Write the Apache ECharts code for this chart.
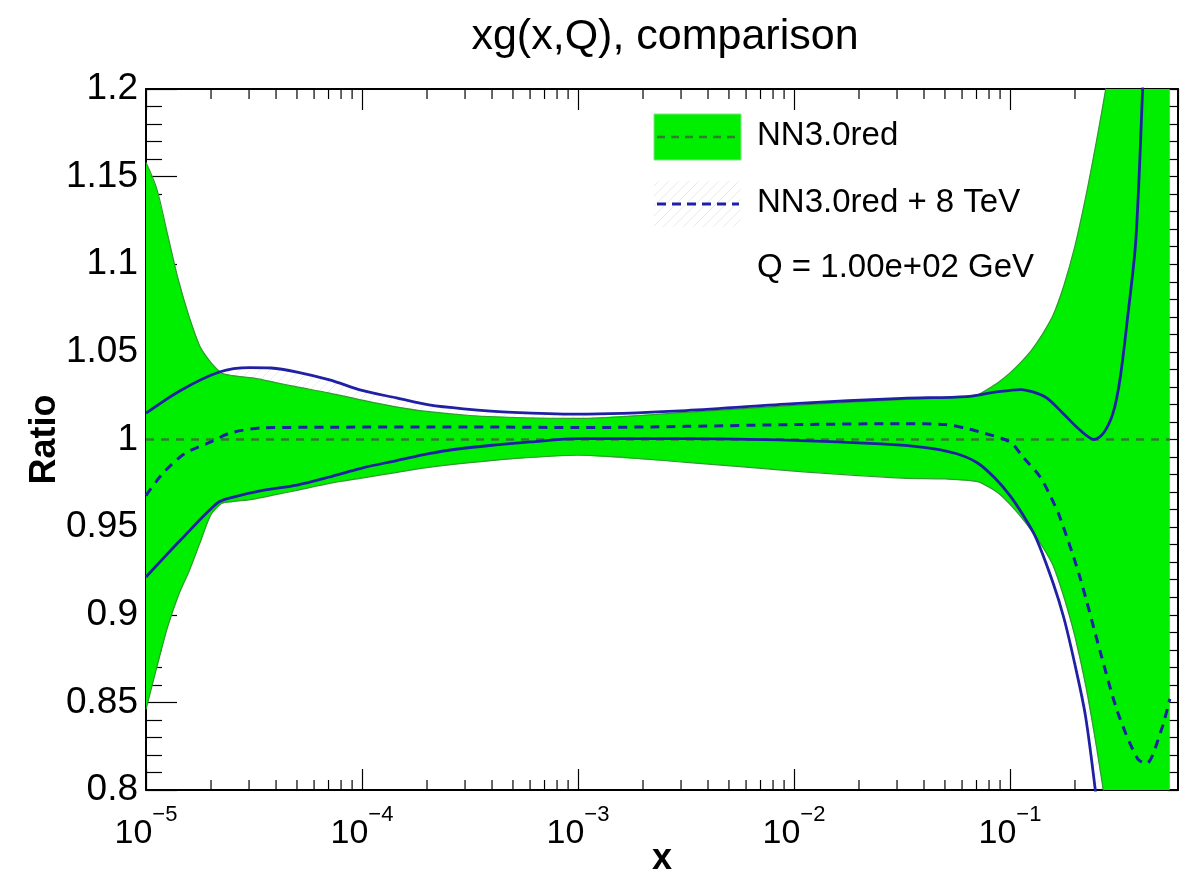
<!DOCTYPE html>
<html>
<head>
<meta charset="utf-8">
<title>xg(x,Q), comparison</title>
<script src="https://cdn.jsdelivr.net/npm/echarts@6/dist/echarts.min.js"></script>
<style>
  html, body { margin: 0; padding: 0; background: #fff; }
  #chart { width: 1188px; height: 876px; }
</style>
</head>
<body>
<div id="chart"></div>
<script>
// all x values are log10(x)
const xMin = -5;
const xMax = -0.222; // x = 0.6
const yMin = 0.8;
const yMax = 1.2;

// NN3.0red band (green)
const bandX = [-5, -4.95, -4.9, -4.85, -4.8, -4.75, -4.7, -4.65, -4.6, -4.5,
  -4.4, -4.3, -4.15, -4.0, -3.85, -3.7, -3.5, -3.25, -3.0, -2.5,
  -2.0, -1.5, -1.3, -1.15, -1.1, -1.05, -1.0, -0.95, -0.9, -0.85,
  -0.8, -0.75, -0.7, -0.65, -0.6, -0.55, -0.5, -0.4, -0.3, -0.26];
const bandUpper = [1.158, 1.143, 1.117, 1.091, 1.070, 1.053, 1.044, 1.038, 1.0365, 1.035,
  1.0325, 1.030, 1.0265, 1.0225, 1.0188, 1.016, 1.0137, 1.0124, 1.012, 1.0155,
  1.0195, 1.0228, 1.0237, 1.0255, 1.029, 1.033, 1.038, 1.044, 1.051, 1.060,
  1.071, 1.088, 1.110, 1.138, 1.170, 1.205, 1.245, 1.33, 1.42, 1.46];
const bandLower = [0.846, 0.870, 0.893, 0.911, 0.925, 0.941, 0.957, 0.9635, 0.9645, 0.966,
  0.9685, 0.971, 0.975, 0.978, 0.981, 0.984, 0.9868, 0.9895, 0.991, 0.987,
  0.982, 0.978, 0.9775, 0.976, 0.973, 0.969, 0.963, 0.956, 0.948, 0.939,
  0.928, 0.910, 0.888, 0.860, 0.825, 0.785, 0.74, 0.65, 0.56, 0.52];
const refLine = [[-5, 1], [-0.26, 1]];

// NN3.0red + 8 TeV (blue)
const blueUpper = [[-5, 1.015], [-4.84, 1.028], [-4.66, 1.0385], [-4.52, 1.041], [-4.42, 1.0408],
  [-4.3, 1.0385], [-4.15, 1.034], [-4.0, 1.028], [-3.84, 1.0237], [-3.69, 1.0197],
  [-3.53, 1.0175], [-3.3, 1.0155], [-3.0, 1.0145], [-2.5, 1.0165], [-2.0, 1.0205],
  [-1.5, 1.0235], [-1.2, 1.0245], [-1.07, 1.027], [-0.95, 1.0285], [-0.89, 1.027],
  [-0.83, 1.0237], [-0.755, 1.015], [-0.676, 1.0054], [-0.61, 1.0], [-0.565, 1.004],
  [-0.523, 1.015], [-0.491, 1.034], [-0.455, 1.07], [-0.417, 1.114], [-0.384, 1.205],
  [-0.37, 1.25]];
const blueMid = [[-5, 0.968], [-4.92, 0.981], [-4.82, 0.992], [-4.70, 0.9986], [-4.61, 1.0037],
  [-4.46, 1.0066], [-4.15, 1.007], [-3.5, 1.0072], [-3.0, 1.0068], [-2.5, 1.0075],
  [-2.0, 1.0085], [-1.5, 1.009], [-1.3, 1.0085], [-1.19, 1.006], [-1.14, 1.0043],
  [-1.0, 0.9986], [-0.94, 0.990], [-0.86, 0.9786], [-0.81, 0.967], [-0.77, 0.956],
  [-0.68, 0.923], [-0.58, 0.878], [-0.5, 0.844], [-0.41, 0.818], [-0.37, 0.815],
  [-0.30, 0.834], [-0.26, 0.852]];
const blueLower = [[-5, 0.9215], [-4.84, 0.9426], [-4.67, 0.9637], [-4.6, 0.967], [-4.46, 0.971],
  [-4.3, 0.974], [-4.15, 0.9786], [-4.0, 0.9837], [-3.84, 0.988], [-3.69, 0.992],
  [-3.53, 0.995], [-3.38, 0.9969], [-3.22, 0.9986], [-3.0, 1.0005], [-2.5, 1.0005],
  [-2.0, 0.9995], [-1.6, 0.9975], [-1.4, 0.9955], [-1.25, 0.992], [-1.15, 0.9866],
  [-1.07, 0.978], [-1.0, 0.968], [-0.94, 0.957], [-0.88, 0.944], [-0.8, 0.918],
  [-0.75, 0.898], [-0.7, 0.872], [-0.65, 0.842], [-0.6, 0.795], [-0.55, 0.74]];

// minor ticks of the log axis (2..9 in each decade)
const minorTicks = [];
for (let d = -5; d < 0; d++) {
  for (let m = 2; m <= 9; m++) {
    const v = d + Math.log10(m);
    if (v < xMax) minorTicks.push([v, yMin]);
  }
}

const FONT = "'Liberation Sans', Arial, Helvetica, sans-serif";
const GREEN = '#00ee00';
const EDGE = '#2f9a2f';
const REF = '#2f7d2f';
const BLUE = '#2020a4';

// faint hatch used for the second set
const hatch = document.createElement('canvas');
hatch.width = 10; hatch.height = 10;
const hctx = hatch.getContext('2d');
hctx.strokeStyle = 'rgba(120,130,220,0.18)';
hctx.lineWidth = 1;
hctx.beginPath();
hctx.moveTo(0, 10); hctx.lineTo(10, 0);
hctx.stroke();

function polygonRender(style) {
  return function (params, api) {
    if (params.dataIndexInside !== 0) return null;
    const pts = [];
    for (let i = 0; i < params.dataInsideLength; i++) {
      pts.push(api.coord([api.value(0, i), api.value(1, i)]));
    }
    return { type: 'polygon', shape: { points: pts }, style: style };
  };
}

const bandPoly = bandX.map((x, i) => [x, bandUpper[i]])
  .concat(bandX.map((x, i) => [x, bandLower[i]]).reverse());
const bluePoly = blueUpper.concat(blueLower.slice().reverse());

const chart = echarts.init(document.getElementById('chart'));

chart.setOption({
  backgroundColor: '#fff',
  animation: false,
  title: {
    text: 'xg(x,Q), comparison',
    left: 660,
    textAlign: 'center',
    top: 11,
    textStyle: { fontFamily: FONT, fontSize: 43, fontWeight: 'normal', color: '#000' }
  },
  grid: { left: 146, top: 89, width: 1032, height: 701, containLabel: false, outerBoundsMode: 'none' },
  xAxis: [
    {
      type: 'value', min: xMin, max: xMax, interval: 1,
      name: 'x', nameLocation: 'middle', nameGap: 51, nameMoveOverlap: false,
      nameTextStyle: { fontFamily: FONT, fontSize: 36, fontWeight: 'bold', color: '#000' },
      axisLine: { lineStyle: { color: '#000', width: 2 } },
      axisTick: { inside: true, length: 21, lineStyle: { color: '#000', width: 1.2 } },
      splitLine: { show: false },
      axisLabel: {
        margin: 14,
        showMaxLabel: false,
        formatter: v => Number.isInteger(v) ? '{b|10}{s|' + (v < 0 ? '\u2212' + (-v) : v) + '}' : '',
        rich: {
          b: { fontFamily: FONT, fontSize: 34, lineHeight: 60, color: '#000' },
          s: { fontFamily: FONT, fontSize: 22, lineHeight: 22, verticalAlign: 'top', color: '#000' }
        }
      }
    },
    {
      type: 'value', min: xMin, max: xMax, interval: 1, position: 'top',
      axisLine: { lineStyle: { color: '#000', width: 2 } },
      axisTick: { inside: true, length: 21, lineStyle: { color: '#000', width: 1.2 } },
      axisLabel: { show: false },
      splitLine: { show: false }
    }
  ],
  yAxis: [
    {
      type: 'value', min: yMin, max: yMax, interval: 0.05,
      name: 'Ratio', nameLocation: 'middle', nameGap: 83, nameMoveOverlap: false,
      nameTextStyle: { fontFamily: FONT, fontSize: 36, fontWeight: 'bold', color: '#000' },
      axisLine: { lineStyle: { color: '#000', width: 2 } },
      axisTick: { inside: true, length: 31, lineStyle: { color: '#000', width: 1.2 } },
      minorTick: { show: true, splitNumber: 5, length: 16, lineStyle: { color: '#000', width: 1.2 } },
      splitLine: { show: false },
      axisLabel: {
        margin: 8,
        fontFamily: FONT, fontSize: 37, color: '#000',
        formatter: v => String(Number(v.toFixed(2)))
      }
    },
    {
      type: 'value', min: yMin, max: yMax, interval: 0.01, position: 'right',
      axisLine: { lineStyle: { color: '#000', width: 2 } },
      axisTick: { inside: true, length: 10, lineStyle: { color: '#000', width: 1.2 } },
      axisLabel: { show: false },
      splitLine: { show: false }
    }
  ],
  graphic: [
    { type: 'rect', shape: { x: 654, y: 114, width: 87, height: 46 },
      style: { fill: GREEN, stroke: '#7fe67f', lineWidth: 1 } },
    { type: 'line', shape: { x1: 657, y1: 137, x2: 739, y2: 137 },
      style: { stroke: REF, lineWidth: 2.5, lineDash: [8, 6] } },
    { type: 'text', left: 757, top: 119,
      style: { text: 'NN3.0red', fontFamily: FONT, fontSize: 33, fill: '#000' } },
    { type: 'rect', shape: { x: 654, y: 181, width: 87, height: 46 },
      style: { fill: { image: hatch, repeat: 'repeat' } } },
    { type: 'line', shape: { x1: 657, y1: 204, x2: 739, y2: 204 },
      style: { stroke: BLUE, lineWidth: 3, lineDash: [9, 6] } },
    { type: 'text', left: 757, top: 186,
      style: { text: 'NN3.0red + 8 TeV', fontFamily: FONT, fontSize: 33, fill: '#000' } },
    { type: 'text', left: 757, top: 251,
      style: { text: 'Q = 1.00e+02 GeV', fontFamily: FONT, fontSize: 33, fill: '#000' } }
  ],
  series: [
    {
      name: 'minor ticks', type: 'custom', z: 1, silent: true,
      data: minorTicks,
      renderItem: function (params, api) {
        const v = api.value(0);
        const b = api.coord([v, yMin]);
        const t = api.coord([v, yMax]);
        const st = { stroke: '#000', lineWidth: 1.2 };
        return {
          type: 'group',
          children: [
            { type: 'line', shape: { x1: b[0], y1: b[1], x2: b[0], y2: b[1] - 10 }, style: st },
            { type: 'line', shape: { x1: t[0], y1: t[1], x2: t[0], y2: t[1] + 10 }, style: st }
          ]
        };
      }
    },
    {
      name: 'NN3.0red band', type: 'custom', z: 2, silent: true, clip: true,
      data: bandPoly,
      renderItem: polygonRender({ fill: GREEN })
    },
    {
      name: 'NN3.0red upper', type: 'line', z: 3, silent: true,
      data: bandX.map((x, i) => [x, bandUpper[i]]),
      smooth: 0.3, symbol: 'none',
      lineStyle: { color: EDGE, width: 1.2 }
    },
    {
      name: 'NN3.0red lower', type: 'line', z: 3, silent: true,
      data: bandX.map((x, i) => [x, bandLower[i]]),
      smooth: 0.3, symbol: 'none',
      lineStyle: { color: EDGE, width: 1.2 }
    },
    {
      name: 'NN3.0red + 8 TeV band', type: 'custom', z: 3, silent: true, clip: true,
      data: bluePoly,
      renderItem: polygonRender({ fill: { image: hatch, repeat: 'repeat' } })
    },
    {
      name: 'NN3.0red', type: 'line', z: 4, silent: true,
      data: refLine, symbol: 'none',
      lineStyle: { color: REF, width: 2.5, type: [8, 7] }
    },
    {
      name: 'NN3.0red + 8 TeV upper', type: 'line', z: 5, silent: true,
      data: blueUpper, smooth: 0.3, symbol: 'none',
      lineStyle: { color: BLUE, width: 2.8 }
    },
    {
      name: 'NN3.0red + 8 TeV lower', type: 'line', z: 5, silent: true,
      data: blueLower, smooth: 0.3, symbol: 'none',
      lineStyle: { color: BLUE, width: 2.8 }
    },
    {
      name: 'NN3.0red + 8 TeV', type: 'line', z: 5, silent: true,
      data: blueMid, smooth: 0.3, symbol: 'none',
      lineStyle: { color: BLUE, width: 3, type: [9, 7] }
    }
  ]
});
</script>
</body>
</html>
